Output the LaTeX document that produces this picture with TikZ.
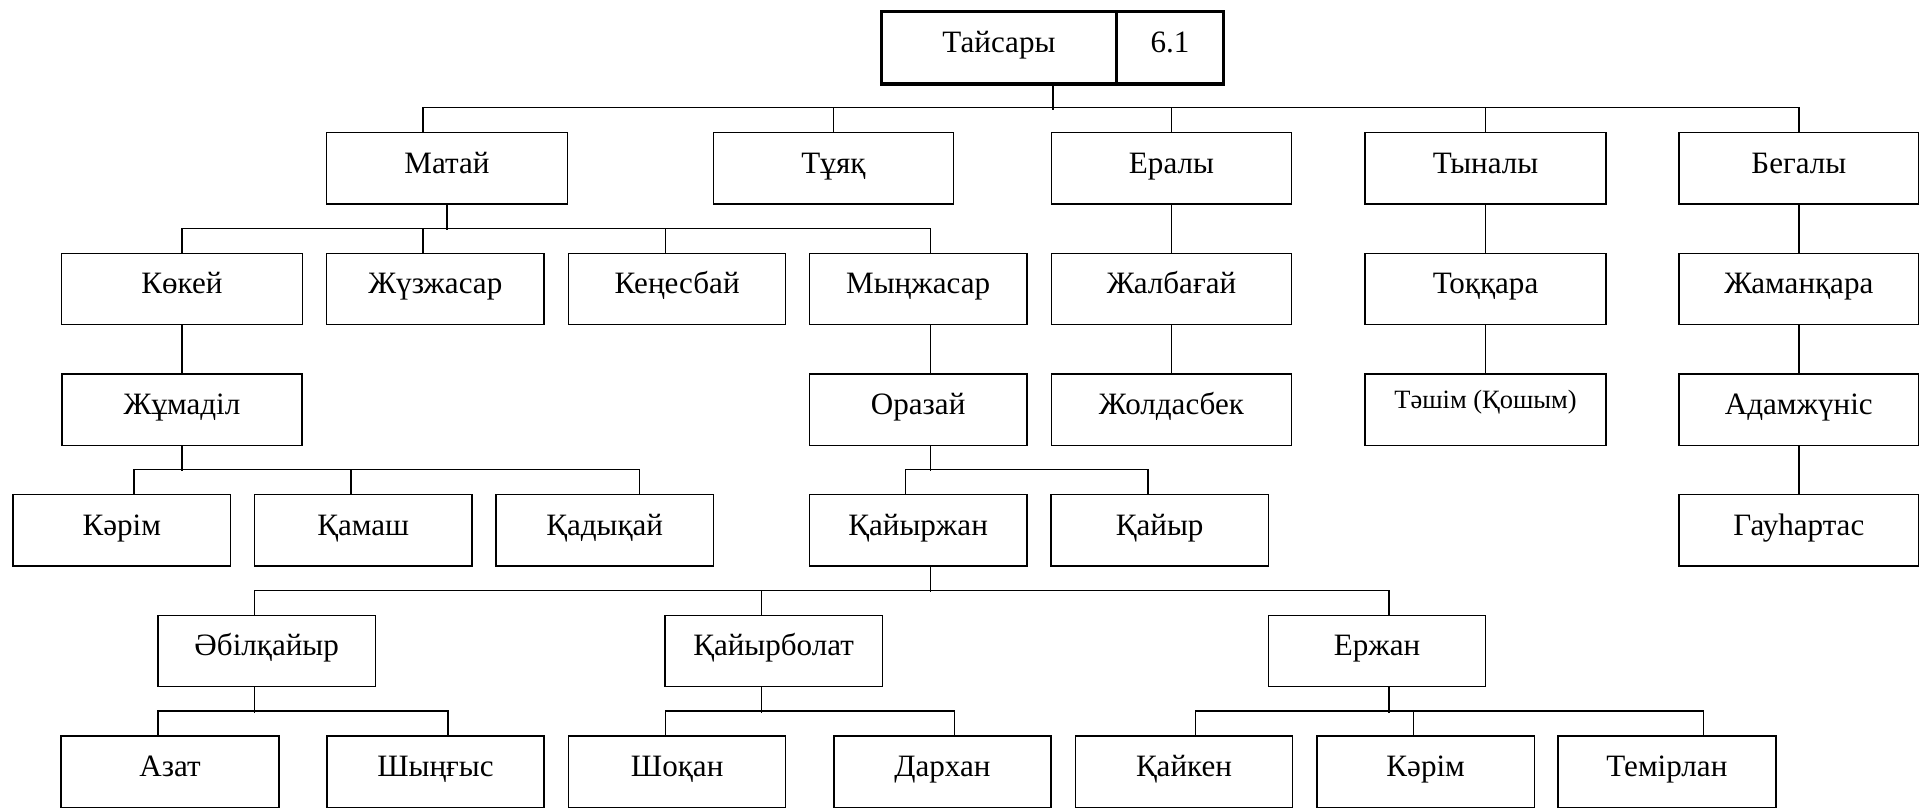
\documentclass[tikz,border=0pt]{standalone}
\usepackage{fontspec}
\setmainfont{Liberation Serif}
\tikzset{
  box/.style={draw, line width=0.6pt, inner sep=0pt, minimum height=29.1pt,
    text height=9pt, text depth=5pt, font=\fontsize{12.7}{15}\selectfont},
  bw/.style={minimum width=#1*0.5pt},
  smalltext/.style={font=\fontsize{10.8}{13}\selectfont, text height=8pt, text depth=8.8pt},
  rootbox/.style={box, line width=1.4pt, minimum height=29.55pt},
  conn/.style={line width=0.6pt},
}
\begin{document}
\begin{tikzpicture}[x=0.5pt,y=-0.5pt]
\useasboundingbox (0,0) rectangle (1568,660);
% root
\node[rootbox, bw=191.8] (root1) at (816.2,39.05) {Тайсары};
\node[rootbox, bw=87.7] (root2) at (956,39.05) {6.1};
% row 1
\node[box,bw=196.8] (matai) at (365.2,137.5) {Матай};
\node[box,bw=196] (tuyak) at (681,137.5) {Тұяқ};
\node[box,bw=196.3] (eraly) at (957.2,137.5) {Ералы};
\node[box,bw=196.7] (tynaly) at (1213.8,137.5) {Тыналы};
\node[box,bw=195.6] (begaly) at (1469.8,137.5) {Бегалы};
% row 2
\node[box,bw=197] (kokei) at (148.7,236.1) {Көкей};
\node[box,bw=177.8] (zhuzzh) at (355.7,236.1) {Жүзжасар};
\node[box,bw=177.4] (kenes) at (553.3,236.1) {Кеңесбай};
\node[box,bw=177.7] (mynzh) at (750.2,236.1) {Мыңжасар};
\node[box,bw=196.3] (zhalb) at (957.2,236.1) {Жалбағай};
\node[box,bw=196.7] (tokkara) at (1213.8,236.1) {Тоққара};
\node[box,bw=195.6] (zhamank) at (1469.8,236.1) {Жаманқара};
% row 3
\node[box,bw=196.4] (zhumadil) at (148.7,334.7) {Жұмаділ};
\node[box,bw=177.7] (orazai) at (750.2,334.7) {Оразай};
\node[box,bw=196.3] (zholdas) at (957.2,334.7) {Жолдасбек};
\node[box,smalltext,bw=196.7] (tashim) at (1213.8,334.7) {Тәшім (Қошым)};
\node[box,bw=195.6] (adamzh) at (1469.8,334.7) {Адамжүніс};
% row 4
\node[box,bw=177.7] (karimA) at (99.5,433.3) {Кәрім};
\node[box,bw=178] (kamash) at (296.8,433.3) {Қамаш};
\node[box,bw=177.8] (kadykai) at (494.1,433.3) {Қадықай};
\node[box,bw=177.7] (kaiyrzhan) at (750.2,433.3) {Қайыржан};
\node[box,bw=177.7] (kaiyr) at (947.6,433.3) {Қайыр};
\node[box,bw=195.6] (gauhar) at (1469.8,433.3) {Гауһартас};
% row 5
\node[box,bw=177.8] (abilk) at (217.9,531.9) {Әбілқайыр};
\node[box,bw=177.7] (kaiyrbolat) at (632.1,531.9) {Қайырболат};
\node[box,bw=177.5] (erzhan) at (1125.2,531.9) {Ержан};
% row 6
\node[box,bw=178] (azat) at (139,630.5) {Азат};
\node[box,bw=177.6] (shyngys) at (355.8,630.5) {Шыңғыс};
\node[box,bw=177.4] (shokan) at (553.3,630.5) {Шоқан};
\node[box,bw=177.4] (darkhan) at (770,630.5) {Дархан};
\node[box,bw=177.2] (kaiken) at (967.4,630.5) {Қайкен};
\node[box,bw=177.8] (karimB) at (1164.9,630.5) {Кәрім};
\node[box,bw=178] (temirlan) at (1362,630.5) {Темірлан};

% connectors: root family
\draw[conn] ([xshift=-26.65pt]root1.south east) -- ++(0,20);
\draw[conn] ([xshift=-9.7pt]matai.north) -- ++(0,-19.8) -| (begaly.north);
\draw[conn] (tuyak.north) -- ++(0,-19.8);
\draw[conn] (eraly.north) -- ++(0,-19.8);
\draw[conn] (tynaly.north) -- ++(0,-19.8);
% Matai family
\draw[conn] (matai.south) -- ++(0,20.6);
\draw[conn] (kokei.north) -- ++(0,-19.8) -| ([xshift=5.1pt]mynzh.north);
\draw[conn] ([xshift=-4.95pt]zhuzzh.north) -- ++(0,-19.8);
\draw[conn] ([xshift=-4.85pt]kenes.north) -- ++(0,-19.8);
% single chains
\draw[conn] (kokei.south) -- (kokei.south |- zhumadil.north);
\draw[conn] ([xshift=5.1pt]mynzh.south) -- ([xshift=5.1pt]orazai.north);
\draw[conn] (eraly.south) -- (zhalb.north);
\draw[conn] (zhalb.south) -- (zholdas.north);
\draw[conn] (tynaly.south) -- (tokkara.north);
\draw[conn] (tokkara.south) -- (tashim.north);
\draw[conn] (begaly.south) -- (zhamank.north);
\draw[conn] (zhamank.south) -- (adamzh.north);
\draw[conn] (adamzh.south) -- (gauhar.north);
% Zhumadil family
\draw[conn] (zhumadil.south) -- ++(0,20.6);
\draw[conn] ([xshift=4.95pt]karimA.north) -- ++(0,-19.8) -| ([xshift=14.25pt]kadykai.north);
\draw[conn] ([xshift=-5pt]kamash.north) -- ++(0,-19.8);
% Orazai family
\draw[conn] ([xshift=5.1pt]orazai.south) -- ++(0,20.6);
\draw[conn] ([xshift=-5.1pt]kaiyrzhan.north) -- ++(0,-19.8) -| ([xshift=-4.8pt]kaiyr.north);
% Kaiyrzhan family
\draw[conn] ([xshift=5.1pt]kaiyrzhan.south) -- ++(0,20.6);
\draw[conn] ([xshift=-5.05pt]abilk.north) -- ++(0,-19.8) -| ([xshift=4.85pt]erzhan.north);
\draw[conn] ([xshift=-5.05pt]kaiyrbolat.north) -- ++(0,-19.8);
% Abilkaiyr family
\draw[conn] ([xshift=-5.05pt]abilk.south) -- ++(0,20.6);
\draw[conn] ([xshift=-5pt]azat.north) -- ++(0,-19.8) -| ([xshift=5.05pt]shyngys.north);
% Kaiyrbolat family
\draw[conn] ([xshift=-5.05pt]kaiyrbolat.south) -- ++(0,20.6);
\draw[conn] ([xshift=-4.85pt]shokan.north) -- ++(0,-19.8) -| ([xshift=5pt]darkhan.north);
% Erzhan family
\draw[conn] ([xshift=4.85pt]erzhan.south) -- ++(0,20.6);
\draw[conn] ([xshift=4.8pt]kaiken.north) -- ++(0,-19.8) -| ([xshift=15pt]temirlan.north);
\draw[conn] ([xshift=-4.95pt]karimB.north) -- ++(0,-19.8);
\end{tikzpicture}
\end{document}
